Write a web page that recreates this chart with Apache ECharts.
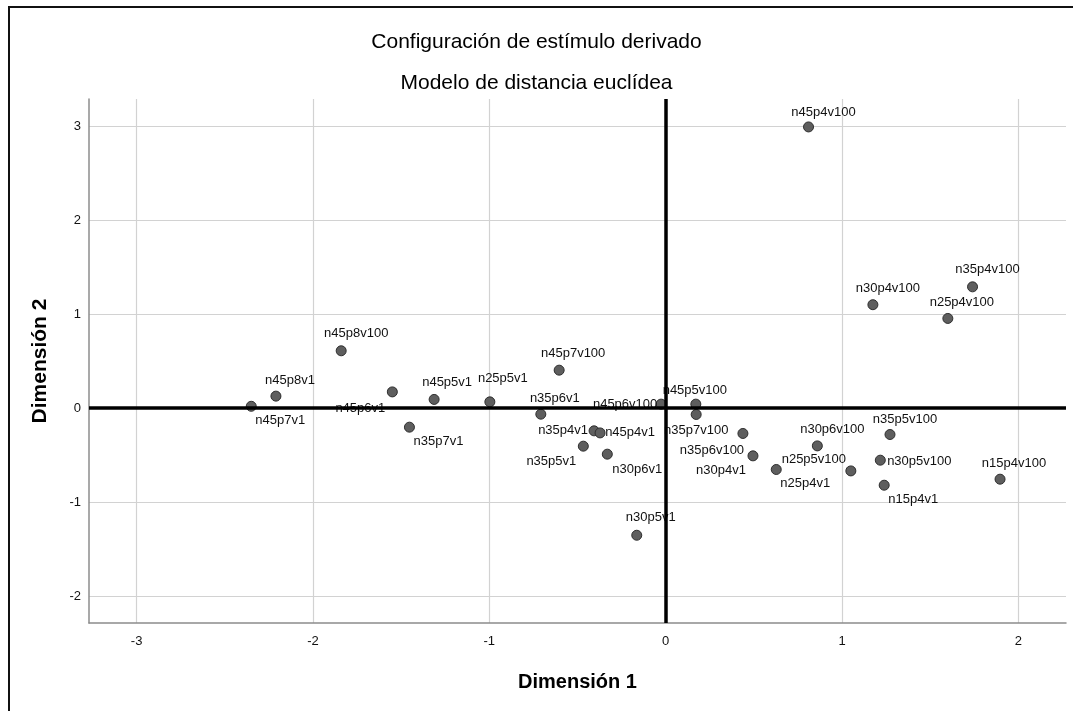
<!DOCTYPE html>
<html>
<head>
<meta charset="utf-8">
<script src="https://cdn.jsdelivr.net/npm/echarts@6/dist/echarts.min.js"></script>
<style>html,body{margin:0;padding:0;background:#fff}#c{width:1073px;height:711px}</style>
</head>
<body>
<div id="c"></div>
<script>
const titleText = 'Configuración de estímulo derivado';
const subtitleText = 'Modelo de distancia euclídea';
const xName = 'Dimensión 1';
const yName = 'Dimensión 2';
const xTicks = [-3, -2, -1, 0, 1, 2];
const yTicks = [-2, -1, 0, 1, 2, 3];

const names = ['n45p4v100','n35p4v100','n30p4v100','n25p4v100','n45p8v100','n45p8v1','n45p7v1','n45p6v1','n45p5v1','n25p5v1',
  'n35p7v1','n45p7v100','n35p6v1','n45p6v100','n45p5v100','n35p7v100','n35p4v1','n45p4v1','n35p5v1','n30p6v1',
  'n35p6v100','n30p4v1','n25p4v1','n25p5v100','n30p6v100','n35p5v100','n30p5v100','n15p4v1','n15p4v100','n30p5v1'];
const dim1 = [0.81, 1.74, 1.175, 1.60, -1.84, -2.21, -2.35, -1.55, -1.313, -0.997,
  -1.453, -0.604, -0.708, -0.026, 0.171, 0.173, -0.406, -0.372, -0.467, -0.331,
  0.438, 0.495, 0.627, 1.050, 0.86, 1.272, 1.217, 1.239, 1.896, -0.164];
const dim2 = [2.99, 1.29, 1.10, 0.954, 0.61, 0.128, 0.02, 0.173, 0.093, 0.067,
  -0.202, 0.404, -0.064, 0.043, 0.043, -0.067, -0.241, -0.263, -0.404, -0.489,
  -0.269, -0.507, -0.652, -0.667, -0.401, -0.280, -0.553, -0.819, -0.755, -1.351];

// label placement (style only): pixel offset of label centre from the point
const labelOffsets = {
  n45p4v100:[15,-15], n35p4v100:[15,-17], n30p4v100:[15,-16], n25p4v100:[14,-16], n45p8v100:[15,-17],
  n45p8v1:[14,-16], n45p7v1:[29,14], n45p6v1:[-32,17], n45p5v1:[13,-17], n25p5v1:[13,-23],
  n35p7v1:[29,14], n45p7v100:[14,-17], n35p6v1:[14,-16], n45p6v100:[-36,0], n45p5v100:[-1,-14],
  n35p7v100:[0,16], n35p4v1:[-31,0], n45p4v1:[30,0], n35p5v1:[-32,15], n30p6v1:[30,15],
  n35p6v100:[-31,17], n30p4v1:[-32,15], n25p4v1:[29,14], n25p5v100:[-37,-11], n30p6v100:[15,-16],
  n35p5v100:[15,-15], n30p5v100:[39,1], n15p4v1:[29,14], n15p4v100:[14,-16], n30p5v1:[14,-18]
};

const points = names.map((n, i) => ({ name: n, value: [dim1[i], dim2[i]] }));

const FONT = '"Liberation Sans", Arial, sans-serif';
const chart = echarts.init(document.getElementById('c'), null, { renderer: 'canvas' });
chart.setOption({
  animation: false,
  backgroundColor: '#ffffff',
  graphic: [{
    type: 'rect', silent: true, z: 0,
    shape: { x: 9, y: 7, width: 1200, height: 900 },
    style: { fill: 'none', stroke: '#111', lineWidth: 2 }
  }],
  title: [
    { text: titleText, left: 'center', top: 29, padding: 0,
      textStyle: { fontFamily: FONT, fontSize: 21, fontWeight: 'normal', color: '#000', lineHeight: 26 } },
    { text: subtitleText, left: 'center', top: 70, padding: 0,
      textStyle: { fontFamily: FONT, fontSize: 21, fontWeight: 'normal', color: '#000', lineHeight: 26 } }
  ],
  grid: { left: 89, right: 7, top: 99, bottom: 88, containLabel: false },
  xAxis: {
    type: 'value', min: -3.27, max: 2.27,
    name: xName, nameLocation: 'middle', nameGap: 49,
    nameTextStyle: { fontFamily: FONT, fontSize: 20, fontWeight: 'bold', color: '#000' },
    axisLine: { show: true, onZero: false, lineStyle: { color: '#8c8c8c', width: 1.5 } },
    axisTick: { show: false, customValues: xTicks },
    axisLabel: { customValues: xTicks, fontFamily: FONT, fontSize: 13, color: '#111', margin: 12 },
    splitLine: { show: true, lineStyle: { color: '#d2d2d2', width: 1.2 } }
  },
  yAxis: {
    type: 'value', min: -2.284, max: 3.287,
    name: yName, nameLocation: 'middle', nameGap: 38, nameRotate: 90,
    nameTextStyle: { fontFamily: FONT, fontSize: 21, fontWeight: 'bold', color: '#000' },
    axisLine: { show: true, onZero: false, lineStyle: { color: '#8c8c8c', width: 1.5 } },
    axisTick: { show: false, customValues: yTicks },
    axisLabel: { customValues: yTicks, fontFamily: FONT, fontSize: 13, color: '#111', margin: 8 },
    splitLine: { show: true, lineStyle: { color: '#d2d2d2', width: 1.2 } }
  },
  series: [{
    type: 'scatter',
    data: points,
    symbol: 'circle',
    symbolSize: 10,
    itemStyle: { color: '#5e5e5e', borderColor: '#2e2e2e', borderWidth: 1, opacity: 1 },
    label: {
      show: true, position: 'inside', formatter: '{b}',
      align: 'center', verticalAlign: 'middle',
      fontFamily: FONT, fontSize: 13, color: '#111'
    },
    labelLayout: function (params) {
      const off = labelOffsets[names[params.dataIndex]] || [0, 0];
      return { dx: off[0], dy: off[1], hideOverlap: false };
    },
    emphasis: { disabled: true },
    markLine: {
      silent: true, symbol: 'none', animation: false,
      label: { show: false },
      lineStyle: { color: '#000', width: 3.5, type: 'solid' },
      data: [{ xAxis: 0 }, { yAxis: 0 }]
    }
  }]
});
</script>
</body>
</html>
